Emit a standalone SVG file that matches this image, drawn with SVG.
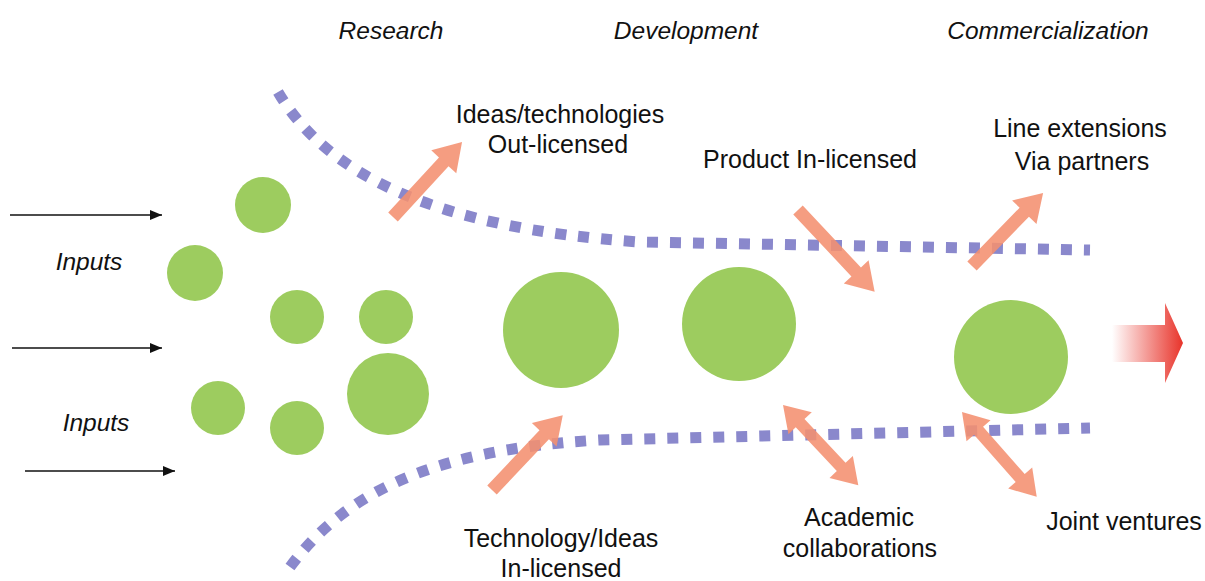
<svg xmlns="http://www.w3.org/2000/svg" width="1205" height="581" viewBox="0 0 1205 581">
  <defs>
    <style>
      .bubble { fill: #9dcc5f; }
      .lbl { font-family: "Liberation Sans", Arial, sans-serif; font-size: 25px; fill: #111; text-anchor: middle; }
      .ttl { font-family: "Liberation Sans", Arial, sans-serif; font-size: 24.5px; font-style: italic; fill: #111; text-anchor: middle; }
      .funnel { fill: none; stroke: #8a88cc; stroke-width: 11; stroke-dasharray: 11 12; }
      .flow { fill: #f4906f; opacity: 0.88; }
      .inp { stroke: #111; stroke-width: 1.5; fill: none; }
    </style>
    <marker id="ah" viewBox="0 0 12 10" refX="12" refY="5" markerWidth="12" markerHeight="10" markerUnits="userSpaceOnUse" orient="auto">
      <path d="M0,0 L12,5 L0,10 z" fill="#111"/>
    </marker>
    <linearGradient id="redgrad" x1="0" y1="0" x2="1" y2="0">
      <stop offset="0" stop-color="#e8332a" stop-opacity="0"/>
      <stop offset="1" stop-color="#e8332a" stop-opacity="1"/>
    </linearGradient>
  </defs>

  <rect width="1205" height="581" fill="#ffffff"/>

  <g id="titles">
    <text class="ttl" x="391" y="39">Research</text>
    <text class="ttl" x="686" y="39">Development</text>
    <text class="ttl" x="1048" y="39">Commercialization</text>
  </g>

  <g id="connectors">
    <path class="funnel" d="M278 92 C325 172, 430 228, 640 242 L1090 250"/>
    <path class="funnel" d="M290 567 C340 500, 420 450, 600 440 L1090 428"/>
    <line class="inp" x1="10" y1="215" x2="162" y2="215" marker-end="url(#ah)"/>
    <line class="inp" x1="12" y1="348" x2="162" y2="348" marker-end="url(#ah)"/>
    <line class="inp" x1="25" y1="471" x2="175" y2="471" marker-end="url(#ah)"/>
    <g transform="translate(393,217) rotate(-47.4)">
      <polygon class="flow" points="0,-6.5 75,-6.5 75,-17 102,0 75,17 75,6.5 0,6.5"/>
    </g>
    <g transform="translate(798,210) rotate(46.8)">
      <polygon class="flow" points="0,-6.5 85,-6.5 85,-17 112,0 85,17 85,6.5 0,6.5"/>
    </g>
    <g transform="translate(972,266) rotate(-45.8)">
      <polygon class="flow" points="0,-6.5 75,-6.5 75,-17 102,0 75,17 75,6.5 0,6.5"/>
    </g>
    <g transform="translate(492,490) rotate(-46.6)">
      <polygon class="flow" points="0,-6.5 76,-6.5 76,-17 103,0 76,17 76,6.5 0,6.5"/>
    </g>
    <g transform="translate(783,405) rotate(46.8)">
      <polygon class="flow" points="0,0 25,-16 25,-6 85,-6 85,-16 110,0 85,16 85,6 25,6 25,16"/>
    </g>
    <g transform="translate(962,412) rotate(48.6)">
      <polygon class="flow" points="0,0 25,-16 25,-6 88,-6 88,-16 113,0 88,16 88,6 25,6 25,16"/>
    </g>
    <polygon fill="url(#redgrad)" points="1112,325 1165,325 1165,303 1183,343 1165,383 1165,362 1112,362"/>
  </g>

  <g id="node-b1"><circle class="bubble" cx="263" cy="205" r="28"/></g>
  <g id="node-b2"><circle class="bubble" cx="195" cy="273" r="28"/></g>
  <g id="node-b3"><circle class="bubble" cx="297" cy="317" r="27"/></g>
  <g id="node-b4"><circle class="bubble" cx="386" cy="317" r="27"/></g>
  <g id="node-b5"><circle class="bubble" cx="218" cy="408" r="27"/></g>
  <g id="node-b6"><circle class="bubble" cx="297" cy="428" r="27"/></g>
  <g id="node-b7"><circle class="bubble" cx="388" cy="394" r="41"/></g>
  <g id="node-b8"><circle class="bubble" cx="561" cy="330" r="58"/></g>
  <g id="node-b9"><circle class="bubble" cx="739" cy="324" r="57"/></g>
  <g id="node-b10"><circle class="bubble" cx="1011" cy="357" r="57"/></g>

  <g id="labels">
    <text class="ttl" x="89" y="270">Inputs</text>
    <text class="ttl" x="96" y="431">Inputs</text>
    <text class="lbl" x="560" y="123">Ideas/technologies</text>
    <text class="lbl" x="558" y="153">Out-licensed</text>
    <text class="lbl" x="810" y="168">Product In-licensed</text>
    <text class="lbl" x="1080" y="137">Line extensions</text>
    <text class="lbl" x="1082" y="170">Via partners</text>
    <text class="lbl" x="859" y="526">Academic</text>
    <text class="lbl" x="860" y="557">collaborations</text>
    <text class="lbl" x="1124" y="530">Joint ventures</text>
    <text class="lbl" x="561" y="547">Technology/Ideas</text>
    <text class="lbl" x="561" y="577">In-licensed</text>
  </g>
</svg>
